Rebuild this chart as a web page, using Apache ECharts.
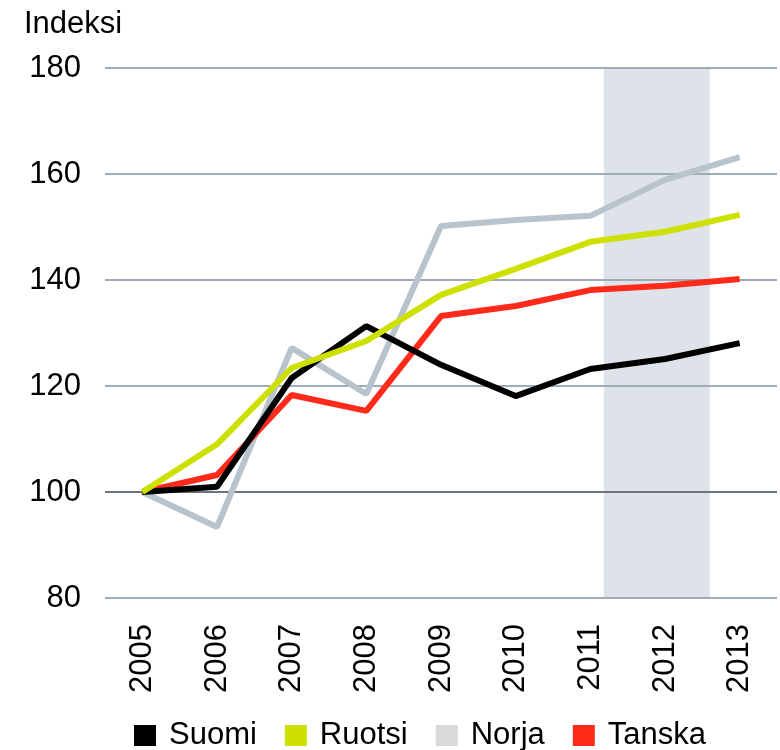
<!DOCTYPE html>
<html>
<head>
<meta charset="utf-8">
<script src="https://cdn.jsdelivr.net/npm/echarts@6/dist/echarts.min.js"></script>
<style>
  html, body { margin: 0; padding: 0; background: #fff; }
  #chart { width: 780px; height: 750px; }
</style>
</head>
<body>
<div id="chart"></div>
<script>
var years = ['2005', '2006', '2007', '2008', '2009', '2010', '2011', '2012', '2013'];
var suomi = [100, 101, 121.5, 131.3, 124, 118.1, 123.2, 125.1, 128.1];
var ruotsi = [100, 109, 123.4, 128.5, 137.2, 142.1, 147.2, 149.1, 152.3];
var norja = [100, 93.4, 127.2, 118.5, 150.2, 151.3, 152.1, 158.9, 163.2];
var tanska = [100, 103.2, 118.3, 115.3, 133.2, 135.1, 138.1, 138.9, 140.2];
// varjostettu jakso (ennuste), x-akselin yksiköissä 0..9
var shadeRange = [6.68, 8.1];

var font = 'Liberation Sans, Arial, sans-serif';
var fs = 31;
var grid1 = '#9fabb7';
var grid100 = '#6b747b';

var lineSeries = function(name, data, color, z) {
    return {
        name: name,
        type: 'line',
        data: data,
        symbol: 'none',
        smooth: false,
        z: z,
        lineStyle: { width: 6, color: color },
        itemStyle: { color: color }
    };
};

var option = {
    animation: false,
    backgroundColor: '#fff',
    textStyle: { fontFamily: font },
    title: {
        text: 'Indeksi',
        left: 19,
        top: 4,
        textStyle: { fontSize: fs, fontWeight: 'normal', color: '#000', fontFamily: font }
    },
    legend: {
        left: 129,
        top: 715,
        itemWidth: 22,
        itemHeight: 21,
        itemGap: 28,
        icon: 'rect',
        textStyle: { fontSize: fs, color: '#000', padding: [0, 0, 0, 8], fontFamily: font },
        data: [
            { name: 'Suomi' },
            { name: 'Ruotsi' },
            { name: 'Norja', itemStyle: { color: '#d9d9d9' } },
            { name: 'Tanska' }
        ]
    },
    grid: { left: 105, right: 3, top: 68, bottom: 152 },
    xAxis: [{
        type: 'category',
        data: years,
        boundaryGap: true,
        axisLine: { show: false },
        axisTick: { show: false },
        axisLabel: { rotate: 90, fontSize: fs, color: '#000', margin: 26, fontFamily: font }
    }, {
        type: 'value',
        min: 0,
        max: 9,
        show: false
    }],
    yAxis: {
        type: 'value',
        min: 80,
        max: 180,
        interval: 20,
        z: 3,
        axisLine: { show: false },
        axisTick: { show: false },
        axisLabel: { fontSize: fs, color: '#000', margin: 24, fontFamily: font },
        splitLine: {
            lineStyle: { width: 2, color: [grid1, grid100, grid1, grid1, grid1, grid1] }
        }
    },
    series: [
        {
            name: 'shade',
            type: 'line',
            xAxisIndex: 1,
            data: [],
            silent: true,
            z: 1,
            markArea: {
                silent: true,
                itemStyle: { color: '#dee3ea' },
                data: [[{ xAxis: shadeRange[0], yAxis: 80 }, { xAxis: shadeRange[1], yAxis: 180 }]]
            }
        },
        lineSeries('Suomi', suomi, '#000000', 6),
        lineSeries('Ruotsi', ruotsi, '#cde000', 7),
        lineSeries('Norja', norja, '#b8c3cc', 4),
        lineSeries('Tanska', tanska, '#ff2a1a', 5)
    ]
};

var myChart = echarts.init(document.getElementById('chart'));
myChart.setOption(option);
</script>
</body>
</html>
